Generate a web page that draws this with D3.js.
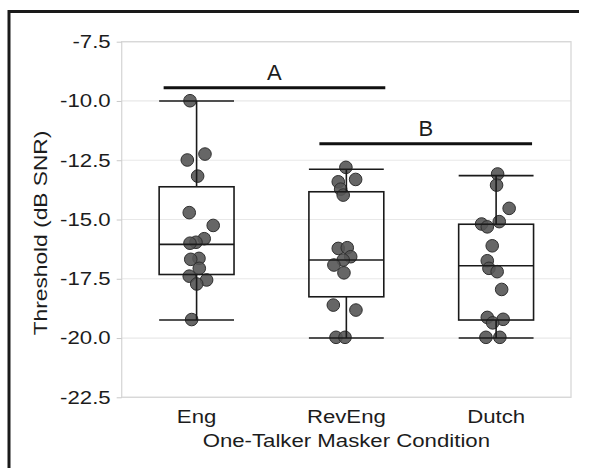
<!DOCTYPE html>
<html>
<head>
<meta charset="utf-8">
<script src="https://cdn.jsdelivr.net/npm/d3@7"></script>
<style>
    body { margin: 0; background: #fff; }
    text { font-family: "Liberation Sans", Arial, sans-serif; fill: #1c1c1c; }
</style>
</head>
<body>
<svg width="589" height="468"></svg>
<script>
// categories and tick labels
const categories = ["Eng", "RevEng", "Dutch"];
const yTicks = [-7.5, -10.0, -12.5, -15.0, -17.5, -20.0, -22.5];

// box statistics per condition
const lowerWhisker = [-19.24, -20.0, -20.0];
const q1 = [-17.32, -18.26, -19.24];
const medians = [-16.05, -16.71, -16.95];
const q3 = [-13.62, -13.83, -15.2];
const upperWhisker = [-10.0, -12.88, -13.15];

// individual thresholds (dB SNR) and their horizontal jitter (fraction of a band)
const engValues = [-9.99, -12.24, -12.49, -13.17, -14.71, -15.25, -15.81, -15.96, -16.0, -16.64, -16.68, -17.06, -17.39, -17.55, -17.72, -19.22];
const engJitter = [-0.044, 0.056, -0.062, 0.007, -0.049, 0.111, 0.051, -0.004, -0.044, 0.016, -0.039, 0.018, -0.049, 0.067, 0.001, -0.033];
const revEngValues = [-12.8, -13.31, -13.41, -13.72, -13.97, -16.22, -16.19, -16.57, -16.71, -16.92, -17.25, -18.61, -18.82, -19.97, -19.97];
const revEngJitter = [-0.003, 0.062, -0.054, -0.038, -0.021, -0.054, 0.006, 0.029, -0.021, -0.083, -0.016, -0.087, 0.064, -0.069, -0.009];
const dutchValues = [-13.08, -13.55, -14.53, -15.19, -15.31, -15.09, -16.11, -16.74, -17.06, -17.2, -17.95, -19.13, -19.21, -19.36, -19.97, -19.97];
const dutchJitter = [0.010, 0.003, 0.087, -0.097, -0.059, 0.021, -0.026, -0.059, -0.048, 0.007, 0.037, -0.059, 0.047, -0.023, -0.068, 0.025];

// significance groups: label, level, span in category index units
const sigLabels = ["A", "B"];
const sigLevels = [-9.44, -11.8];
const sigFrom = [-0.22, 0.82];
const sigTo = [1.26, 2.24];

const svg = d3.select("svg");
const plotLeft = 121.7, plotRight = 571, plotTop = 41.7, plotBottom = 397.3;
const fontSize = 18.5;
const stretch = 1.2; // labels in the original are drawn wide

const y = d3.scaleLinear().domain([-22.5, -7.5]).range([plotBottom, plotTop]);
const x = d3.scaleBand().domain(categories).range([plotLeft, plotRight]).padding(0);
// position by category index (used for jitter and for the group bars)
const xi = d3.scaleLinear().domain([-0.5, categories.length - 0.5]).range([plotLeft, plotRight]);
const bw = x.bandwidth();
const boxW = bw / 2;

// outer frame (left and top edges only)
svg.append("path")
    .attr("d", `M9,468 V11.5 H579`)
    .attr("fill", "none")
    .attr("stroke", "#1a1a1a")
    .attr("stroke-width", 3);

// gridlines
svg.append("g")
    .selectAll("line")
    .data(yTicks)
    .join("line")
    .attr("x1", plotLeft).attr("x2", plotRight)
    .attr("y1", d => y(d)).attr("y2", d => y(d))
    .attr("stroke", "#e8e8e8")
    .attr("stroke-width", 1.2);

// panel border
svg.append("rect")
    .attr("x", plotLeft).attr("y", plotTop)
    .attr("width", plotRight - plotLeft).attr("height", plotBottom - plotTop)
    .attr("fill", "none")
    .attr("stroke", "#d8d8d8")
    .attr("stroke-width", 1.3);

// y axis
const yAxis = svg.append("g")
    .attr("transform", `translate(${plotLeft},0)`)
    .call(d3.axisLeft(y).tickValues(yTicks).tickFormat(d => d.toFixed(1)).tickSize(5));
yAxis.select(".domain").remove();
yAxis.selectAll(".tick line").attr("stroke", "#c8c8c8");
yAxis.selectAll(".tick text")
    .attr("x", 0)
    .attr("transform", `translate(-11,0) scale(${stretch},1)`)
    .attr("font-size", fontSize)
    .attr("font-family", "Liberation Sans, Arial, sans-serif")
    .attr("fill", "#1c1c1c");

// x labels
svg.append("g")
    .selectAll("text")
    .data(categories)
    .join("text")
    .attr("transform", d => `translate(${x(d) + bw / 2},423.3) scale(${stretch},1)`)
    .attr("text-anchor", "middle")
    .attr("font-size", fontSize)
    .text(d => d);

// axis titles
svg.append("text")
    .attr("transform", `translate(${(plotLeft + plotRight) / 2},447.3) scale(${stretch},1)`)
    .attr("text-anchor", "middle")
    .attr("font-size", fontSize)
    .text("One-Talker Masker Condition");

svg.append("text")
    .attr("transform", `translate(46.5,233) rotate(-90) scale(1.23,1)`)
    .attr("text-anchor", "middle")
    .attr("font-size", fontSize)
    .text("Threshold (dB SNR)");

// points
let points = [];
[engValues, revEngValues, dutchValues].forEach((vals, i) => {
    const jit = [engJitter, revEngJitter, dutchJitter][i];
    vals.forEach((v, j) => points.push({ i: i, v: v, jit: jit[j] }));
});

svg.append("g")
    .selectAll("circle")
    .data(points)
    .join("circle")
    .attr("cx", d => xi(d.i + d.jit))
    .attr("cy", d => y(d.v))
    .attr("r", 6.3)
    .attr("fill", "#555555")
    .attr("fill-opacity", 0.9)
    .attr("stroke", "#2f2f2f")
    .attr("stroke-width", 1);

// boxes and whiskers, drawn over the points
const boxes = svg.append("g")
    .selectAll("g")
    .data(categories)
    .join("g");

boxes.append("line")
    .attr("x1", d => x(d) + bw / 2).attr("x2", d => x(d) + bw / 2)
    .attr("y1", (d, i) => y(upperWhisker[i])).attr("y2", (d, i) => y(q3[i]));
boxes.append("line")
    .attr("x1", d => x(d) + bw / 2).attr("x2", d => x(d) + bw / 2)
    .attr("y1", (d, i) => y(q1[i])).attr("y2", (d, i) => y(lowerWhisker[i]));
boxes.append("rect")
    .attr("x", d => x(d) + bw / 2 - boxW / 2)
    .attr("y", (d, i) => y(q3[i]))
    .attr("width", boxW)
    .attr("height", (d, i) => y(q1[i]) - y(q3[i]))
    .attr("fill", "none");
boxes.append("line")
    .attr("x1", d => x(d) + bw / 2 - boxW / 2).attr("x2", d => x(d) + bw / 2 + boxW / 2)
    .attr("y1", (d, i) => y(medians[i])).attr("y2", (d, i) => y(medians[i]));
boxes.append("line")
    .attr("x1", d => x(d) + bw / 2 - boxW / 2).attr("x2", d => x(d) + bw / 2 + boxW / 2)
    .attr("y1", (d, i) => y(upperWhisker[i])).attr("y2", (d, i) => y(upperWhisker[i]));
boxes.append("line")
    .attr("x1", d => x(d) + bw / 2 - boxW / 2).attr("x2", d => x(d) + bw / 2 + boxW / 2)
    .attr("y1", (d, i) => y(lowerWhisker[i])).attr("y2", (d, i) => y(lowerWhisker[i]));
boxes.selectAll("line, rect")
    .attr("stroke", "#1a1a1a")
    .attr("stroke-width", 1.6);

// significance bars
const sig = svg.append("g")
    .selectAll("g")
    .data(sigLabels)
    .join("g");
sig.append("line")
    .attr("x1", (d, i) => xi(sigFrom[i]))
    .attr("x2", (d, i) => xi(sigTo[i]))
    .attr("y1", (d, i) => y(sigLevels[i]))
    .attr("y2", (d, i) => y(sigLevels[i]))
    .attr("stroke", "#111")
    .attr("stroke-width", 3);
sig.append("text")
    .attr("x", (d, i) => (xi(sigFrom[i]) + xi(sigTo[i])) / 2)
    .attr("y", (d, i) => y(sigLevels[i]) - 7.5)
    .attr("text-anchor", "middle")
    .attr("font-family", "Open Sans, sans-serif")
    .attr("font-size", 22)
    .text(d => d);
</script>
</body>
</html>
